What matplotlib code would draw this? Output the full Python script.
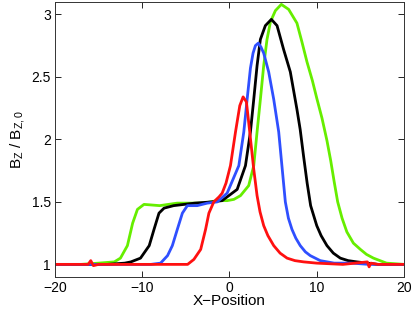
"""Bz/Bz0 profiles vs x-position at four times (MATLAB-style figure)."""
import matplotlib
matplotlib.use("Agg")
import matplotlib.pyplot as plt

# values
green_x = [-20, -17, -15, -13.2, -12.5, -11.7, -11.1, -10.55, -9.8, -8, -6, -5.3, -3, -2.2, -1.4, -0.27,
           0.5, 1.26, 2.2, 2.78, 3.16, 3.54, 3.92, 4.3, 4.69, 5.26, 5.94, 6.78, 7.73, 8.3, 8.88, 9.5,
           10.0, 10.6, 11.17, 11.6, 12.0, 12.4, 12.9, 13.45, 14.2, 15.0, 15.7, 16.5, 18, 20]
green_y = [1.0, 1.0, 1.01, 1.02, 1.05, 1.15, 1.33, 1.44, 1.48, 1.47, 1.49, 1.49, 1.49, 1.5, 1.51, 1.51,
           1.52, 1.55, 1.63, 1.79, 2.06, 2.32, 2.59, 2.80, 2.94, 3.03, 3.08, 3.04, 2.93, 2.78, 2.62, 2.47,
           2.33, 2.17, 1.99, 1.83, 1.66, 1.50, 1.37, 1.26, 1.17, 1.12, 1.08, 1.05, 1.01, 1.0]

black_x = [-20, -17, -14, -12, -11.3, -10.2, -9.2, -8.65, -8.08, -7.5, -6.4, -4, -2, -0.84, 0.88, 1.83,
           2.4, 2.78, 3.16, 3.54, 4.11, 4.8, 5.45, 6.2, 6.97, 7.73, 8.1, 8.5, 8.9, 9.3, 10.0, 10.5,
           11.17, 11.9, 12.7, 13.6, 14.6, 17, 20]
black_y = [1.0, 1.0, 1.0, 1.01, 1.02, 1.05, 1.15, 1.28, 1.41, 1.45, 1.47, 1.49, 1.5, 1.51, 1.6, 1.79,
           2.06, 2.32, 2.59, 2.80, 2.91, 2.96, 2.91, 2.72, 2.54, 2.24, 2.08, 1.86, 1.65, 1.47, 1.31, 1.23,
           1.15, 1.09, 1.05, 1.03, 1.02, 1.0, 1.0]

blue_x = [-20, -17, -14, -11, -9, -7.9, -7.1, -6.55, -5.98, -5.4, -4.83, -3.7, -2.55, -1.4, -0.27, 1.07,
          1.64, 2.02, 2.4, 2.7, 2.97, 3.3, 3.6, 3.92, 4.49, 5.07, 5.64, 6.02, 6.4, 6.75, 7.16, 7.6, 8.11,
          8.7, 9.26, 10.4, 12, 14, 16, 20]
blue_y = [1.0, 1.0, 1.0, 1.0, 1.0, 1.01, 1.07, 1.15, 1.28, 1.41, 1.47, 1.47, 1.49, 1.5, 1.57, 1.79,
          2.06, 2.32, 2.57, 2.69, 2.75, 2.77, 2.74, 2.69, 2.54, 2.32, 2.06, 1.78, 1.50, 1.37, 1.28, 1.21,
          1.15, 1.1, 1.07, 1.03, 1.01, 1.01, 1.0, 1.0]

red_x = [-20, -17, -16.2, -15.9, -15.6, -15, -12, -8, -4.8, -4.08, -3.3, -2.74, -2.36, -1.8, -1.2,
         -0.84, -0.4, 0.11, 0.69, 1.18, 1.56, 1.94, 2.32, 2.78, 3.16, 3.5, 3.92, 4.4, 5.07, 5.8, 6.6,
         7.5, 8.5, 10, 13, 15.8, 16.0, 16.2, 17, 20]
red_y = [1.0, 1.0, 1.0, 1.03, 0.99, 1.0, 1.0, 1.0, 1.0, 1.04, 1.12, 1.28, 1.41, 1.5, 1.54,
         1.57, 1.65, 1.79, 2.06, 2.27, 2.34, 2.30, 2.06, 1.76, 1.55, 1.42, 1.31, 1.23, 1.15, 1.09, 1.05,
         1.03, 1.02, 1.01, 1.0, 1.02, 0.98, 1.01, 1.0, 1.0]

x_ticks = [-20, -10, 0, 10, 20]
y_ticks = [1, 1.5, 2, 2.5, 3]
y_ticklabels = ["1", "1.5", "2", "2.5", "3"]

plt.rcParams["font.family"] = ["Liberation Sans", "DejaVu Sans"]
plt.rcParams["mathtext.fontset"] = "custom"
plt.rcParams["mathtext.rm"] = "Liberation Sans"
plt.rcParams["mathtext.it"] = "Liberation Sans"

fig = plt.figure(figsize=(4.15, 3.15), dpi=100)
ax = fig.add_axes([0.1325, 0.121, 0.841, 0.873])

lw = 2.0
ax.plot(green_x, green_y, color="#66ee00", lw=lw)
ax.plot(black_x, black_y, color="black", lw=lw)
ax.plot(blue_x, blue_y, color="#2f4fff", lw=lw)
ax.plot(red_x, red_y, color="#ff1010", lw=lw)

ax.set_xlim(-20, 20)
ax.set_ylim(0.9, 3.1)
ax.set_xticks(x_ticks)
ax.set_yticks(y_ticks)
ax.set_yticklabels(y_ticklabels)
ax.tick_params(direction="in", top=True, right=True, length=4, width=0.6, labelsize=10, pad=3)
for s in ax.spines.values():
    s.set_linewidth(0.7)
    s.set_color("#333333")

ax.set_xlabel("X\u2212Position", fontsize=11, labelpad=-1)
ax.set_ylabel(r"B$_Z$ / B$_{Z,0}$", fontsize=11, labelpad=3)

fig.savefig("out.png", dpi=100)
